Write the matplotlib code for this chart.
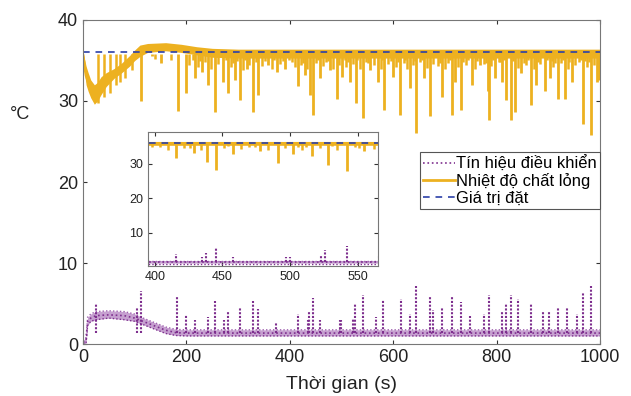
import numpy as np
import matplotlib
matplotlib.use('Agg')
import matplotlib.pyplot as plt

plt.rcParams['font.family'] = ['Liberation Sans', 'DejaVu Sans']

# nhiet do chat long: duong bao (t, tren, duoi)
temp_t = [0, 3, 6, 10, 15, 22, 28, 35, 45, 60, 75, 90, 100, 110, 125, 160, 190, 220, 250, 300, 1000]
temp_up = [36.2, 35.2, 34.3, 33.5, 32.6, 32.0, 32.3, 33.0, 33.5, 34.0, 34.7, 35.6, 36.3, 36.9, 37.1, 37.2, 37.0, 36.7, 36.5, 36.4, 36.4]
temp_lo = [35.0, 33.5, 32.0, 31.2, 30.4, 29.6, 30.0, 30.8, 31.8, 32.8, 33.5, 34.3, 35.0, 35.5, 36.0, 36.2, 36.0, 35.7, 35.4, 35.3, 35.3]

# cac dinh tut xuong cua nhiet do (t, gia tri nho nhat)
spike_t = [113, 133, 151, 183, 200, 217, 230, 242, 255, 271, 280, 294, 304, 317, 329, 339, 358,
           375, 391, 416, 429, 439, 445, 458, 478, 491, 502, 516, 528, 542, 555, 570, 583, 600,
           614, 632, 645, 660, 671, 694, 713, 719, 732, 752, 768, 783, 785, 797, 811, 819, 827,
           836, 848, 866, 877, 894, 903, 918, 932, 945, 968, 983, 994, 999]
spike_min = [30.0, 35.5, 34.7, 28.8, 31.0, 32.8, 33.6, 32.0, 28.7, 32.4, 31.0, 32.6, 30.1, 34.0,
             28.7, 30.7, 34.4, 33.6, 34.0, 31.8, 33.2, 30.7, 28.3, 32.8, 33.8, 30.3, 33.0, 32.4,
             29.7, 27.9, 33.8, 32.4, 28.9, 33.0, 28.3, 31.6, 26.0, 32.8, 28.1, 30.5, 28.3, 32.4,
             28.9, 32.0, 34.4, 31.2, 27.7, 32.8, 32.4, 30.1, 27.7, 28.7, 33.4, 29.5, 32.0, 31.2,
             32.8, 30.3, 30.3, 32.4, 27.2, 25.8, 32.4, 32.6]
small_t = [30, 40, 52, 63, 71, 82, 95, 140, 170, 205, 222, 236, 248, 262, 287, 298, 310, 322,
           346, 352, 365, 382, 404, 410, 422, 434, 451, 464, 470, 484, 496, 509, 522, 535, 548,
           562, 576, 590, 606, 620, 626, 638, 652, 666, 678, 686, 700, 706, 726, 740, 758, 775,
           790, 804, 842, 856, 872, 884, 910, 924, 938, 952, 960, 975, 988,
           212, 226, 276, 290, 313, 335, 370, 386, 398, 426, 454, 474, 506, 512, 531, 551, 579,
           595, 610, 623, 642, 656, 690, 709, 736, 744, 762, 779, 793, 807, 815, 832, 853, 861,
           881, 898, 907, 914, 928, 941, 964, 972, 979]
small_min = [29.8, 30.5, 31.0, 32.0, 32.3, 32.9, 33.8, 35.2, 35.0, 34.5, 34.2, 34.8, 34.0, 34.6,
             34.2, 34.9, 33.8, 34.5, 34.3, 34.9, 34.0, 34.6, 34.8, 34.2, 34.5, 34.0, 34.7, 34.3,
             34.8, 34.0, 34.5, 34.2, 34.6, 34.0, 34.8, 34.4, 34.0, 34.6, 34.2, 34.7, 34.0, 34.4,
             34.8, 34.1, 34.6, 34.3, 34.0, 34.7, 34.2, 34.5, 34.0, 34.6, 34.3, 34.8, 34.1, 34.5,
             34.0, 34.6, 34.2, 34.7, 34.0, 34.4, 34.8, 34.2, 34.5,
             35.0, 34.9, 35.1, 34.7, 35.0, 34.8, 35.1, 34.9, 35.0, 34.7, 35.1, 34.9, 35.0, 34.8,
             35.1, 34.7, 35.0, 34.9, 34.8, 35.1, 34.9, 35.0, 34.7, 35.1, 34.8, 35.0, 34.9, 34.7,
             35.1, 34.8, 35.0, 34.9, 34.7, 35.1, 34.8, 35.0, 34.9, 34.7, 35.1, 34.8, 35.0, 34.9, 34.8]

# tin hieu dieu khien (t, giua, duoi, tren)
ctrl_t = [0, 6, 9, 15, 25, 50, 80, 100, 120, 140, 160, 180, 200, 1000]
ctrl_mid = [0.2, 0.4, 2.8, 3.2, 3.5, 3.6, 3.5, 3.2, 2.7, 2.2, 1.7, 1.4, 1.35, 1.35]
ctrl_lo = [0.0, 0.1, 2.3, 2.8, 3.0, 3.2, 3.0, 2.8, 2.3, 1.8, 1.3, 1.05, 1.0, 1.0]
ctrl_up = [0.4, 0.8, 3.3, 3.7, 4.0, 4.1, 4.0, 3.7, 3.1, 2.6, 2.1, 1.8, 1.75, 1.75]
cspike_t = [25, 104, 113, 182, 200, 216, 241, 255, 272, 280, 304, 328, 339, 374, 416, 435, 438,
            445, 458, 497, 500, 523, 526, 542, 566, 581, 615, 633, 645, 671, 678, 694, 714, 732,
            748, 776, 785, 811, 819, 828, 842, 866, 890, 902, 919, 937, 955, 968, 982]
cspike_max = [5.1, 4.4, 6.5, 5.8, 3.6, 3.0, 3.3, 5.3, 3.0, 4.0, 4.6, 5.3, 4.3, 2.6, 3.7, 3.0, 4.0,
              5.7, 3.0, 3.0, 3.0, 3.2, 5.0, 6.0, 3.3, 5.4, 5.6, 3.7, 7.1, 5.8, 4.2, 4.4, 5.8, 5.2,
              3.4, 3.7, 6.0, 4.1, 5.1, 6.0, 5.6, 5.0, 4.0, 4.1, 4.4, 4.5, 3.7, 6.3, 7.2]

setpoint = 36
yellow = '#EDB120'
purple = '#7E2F8E'
blue = '#2B3FA8'


def draw(ax):
    ax.fill_between(ctrl_t, ctrl_lo, ctrl_up, color='#C6A0D0', lw=0)
    ax.plot(ctrl_t, ctrl_lo, color=purple, lw=1.0, ls=(0, (1, 1.5)))
    ax.plot(ctrl_t, ctrl_up, color='#A060B0', lw=1.0, ls=(0, (1, 1.5)))
    ax.vlines(cspike_t, ctrl_mid[-1], cspike_max, color=purple, lw=1.5, linestyles=[(0, (1, 0.8))])
    l1, = ax.plot(ctrl_t, ctrl_mid, ':', color=purple, lw=1.2)
    ax.fill_between(temp_t, temp_lo, temp_up, color=yellow, lw=0)
    ax.vlines(small_t, small_min, 35.8, color=yellow, lw=1.8)
    ax.vlines(spike_t, spike_min, 35.8, color=yellow, lw=2.0)
    l2, = ax.plot(temp_t, np.add(temp_lo, temp_up) / 2, color=yellow, lw=2)
    l3, = ax.plot([0, 1000], [setpoint, setpoint], '--', color=blue, lw=1.2, dashes=(4, 3.5))
    ax.tick_params(direction='in', top=True, right=True, colors='#333333', length=3)
    for s in ax.spines.values():
        s.set_color('#777777')
    return l1, l2, l3


fig = plt.figure(figsize=(6.31, 3.96), dpi=100)
ax = fig.add_axes([0.1315, 0.1313, 0.8193, 0.8182])
l1, l2, l3 = draw(ax)
ax.set_xlim(0, 1000)
ax.set_ylim(0, 40)
ax.set_xticks(range(0, 1001, 200))
ax.set_yticks(range(0, 41, 10))
ax.tick_params(labelsize=13, labelcolor='#222222')
ax.set_xlabel('Thời gian (s)', fontsize=14, color='#222222')
ax.xaxis.set_label_coords(0.5, -0.125)
ax.xaxis.label.set_va('center')
ax.set_ylabel('°C', fontsize=13, rotation=0, color='#222222')
ax.yaxis.set_label_coords(-0.122, 0.707)
ax.yaxis.label.set_va('center')

ins = fig.add_axes([0.2345, 0.3283, 0.3645, 0.3384])
draw(ins)
ins.set_xlim(395, 565)
ins.set_ylim(0.3, 39.3)
ins.set_xticks([400, 450, 500, 550])
ins.set_yticks([10, 20, 30])
ins.tick_params(labelsize=9, labelcolor='#222222')

leg = ax.legend([l1, l2, l3], ['Tín hiệu điều khiển', 'Nhiệt độ chất lỏng', 'Giá trị đặt'],
                loc='upper left', bbox_to_anchor=(0.6656, 0.6162), bbox_transform=fig.transFigure,
                fontsize=11.9, fancybox=False, framealpha=1, edgecolor='#555555',
                borderpad=0.2, labelspacing=0.1, handlelength=1.9, handletextpad=0.1,
                borderaxespad=0)
leg.get_frame().set_linewidth(0.8)

plt.savefig('out.png', dpi=100)
